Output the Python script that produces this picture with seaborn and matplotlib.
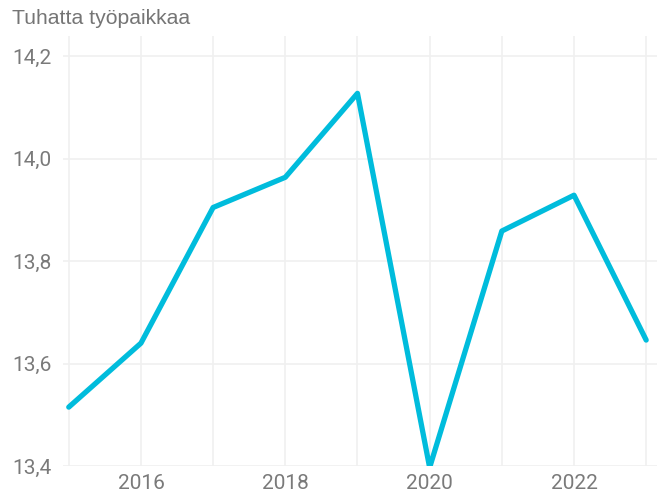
import matplotlib
matplotlib.use("Agg")
import matplotlib.pyplot as plt
import matplotlib.ticker as mticker
import seaborn as sns
import pandas as pd

# Data
years = [2015, 2016, 2017, 2018, 2019, 2020, 2021, 2022, 2023]
jobs = [13.515, 13.640, 13.905, 13.964, 14.128, 13.397, 13.859, 13.929, 13.646]
y_ticks = [13.4, 13.6, 13.8, 14.0, 14.2]
x_ticks = [2016, 2018, 2020, 2022]

df = pd.DataFrame({"year": years, "jobs": jobs})

sns.set_theme(style="white")
plt.rcParams["font.family"] = ["Roboto", "DejaVu Sans"]

fig = plt.figure(figsize=(6.61, 4.93), dpi=100)
ax = fig.add_axes([63 / 661, 1 - 466 / 493, (657 - 63) / 661, (466 - 36) / 493])

sns.lineplot(data=df, x="year", y="jobs", ax=ax, color="#00bcdc", linewidth=3.8)

ax.set_xlim(2014.92, 2023.15)
ax.set_ylim(13.4, 14.24)
ax.set_yticks(y_ticks)
ax.set_xticks(years, minor=True)
ax.set_xticks(x_ticks)
ax.yaxis.set_major_formatter(mticker.FuncFormatter(lambda v, p: f"{v:.1f}".replace(".", ",")))

grid_c = "#f0f0f0"
ax.grid(True, axis="y", color=grid_c, linewidth=1.2)
ax.grid(True, axis="x", which="both", color=grid_c, linewidth=1.2)
for s in ax.spines.values():
    s.set_visible(False)
ax.tick_params(axis="x", which="both", length=4, color=grid_c, width=1.2,
               labelsize=15, labelcolor="#7a7a7a", pad=2)
ax.tick_params(axis="y", length=0, labelsize=15, labelcolor="#7a7a7a", pad=8)
ax.set_xlabel("")
ax.set_ylabel("")
ax.set_axisbelow(True)

fig.text(12 / 661, 1 - 19 / 493, "Tuhatta työpaikkaa", fontsize=15.2, color="#757575",
         family=["Liberation Sans", "DejaVu Sans"], va="center", ha="left")

fig.savefig("out.png", dpi=100)
